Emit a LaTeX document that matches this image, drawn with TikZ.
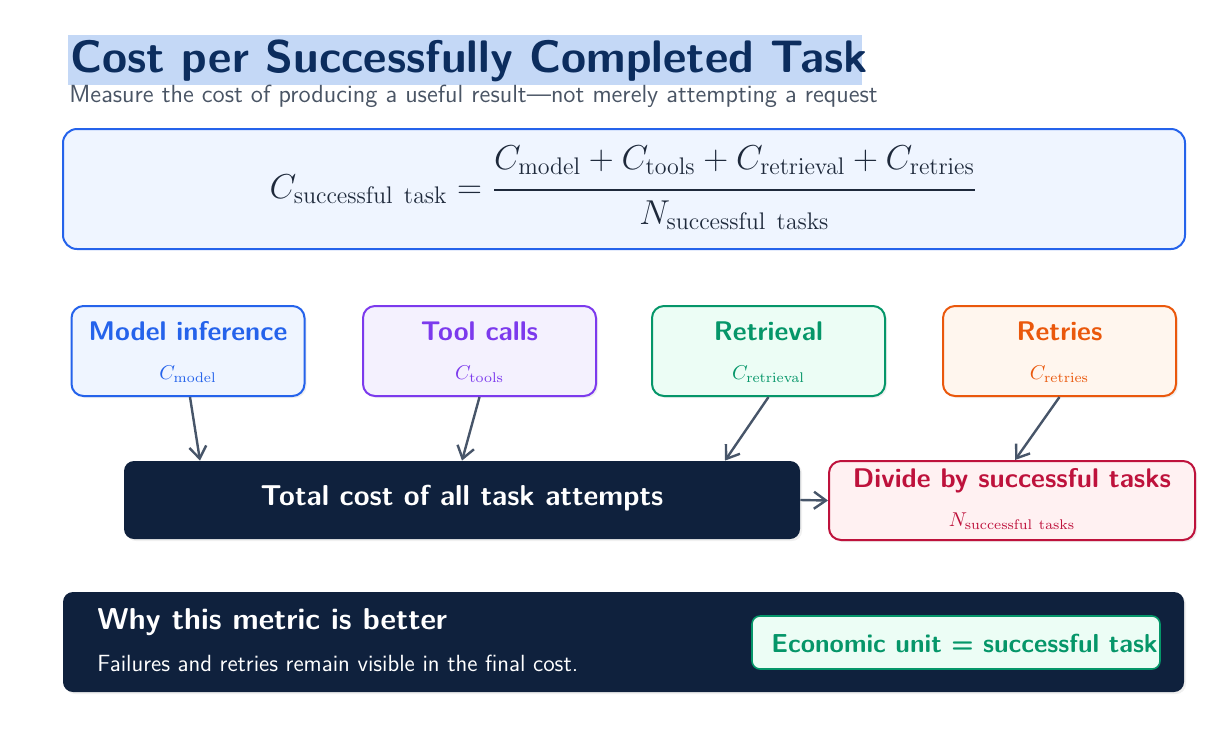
\documentclass[tikz,border=0pt]{standalone}
\usepackage{amsmath}
\usetikzlibrary{arrows.meta,shadows,calc}
\definecolor{navy}{HTML}{0F213D}
\definecolor{titlecol}{HTML}{0C2D5E}
\definecolor{hilite}{HTML}{C4D8F6}
\definecolor{subcol}{HTML}{4A5565}
\definecolor{arrowcol}{HTML}{475569}
\definecolor{cblue}{HTML}{2563EB}
\definecolor{fblue}{HTML}{EFF5FF}
\definecolor{cpurple}{HTML}{7C3AED}
\definecolor{fpurple}{HTML}{F4F1FE}
\definecolor{cgreen}{HTML}{059669}
\definecolor{fgreen}{HTML}{ECFDF5}
\definecolor{corange}{HTML}{EA580C}
\definecolor{forange}{HTML}{FFF6EE}
\definecolor{cred}{HTML}{BE123C}
\definecolor{fred}{HTML}{FFF1F2}
\definecolor{mathcol}{HTML}{1E293B}
\tikzset{
  card/.style={draw=#1, line width=1pt, rounded corners=6pt, minimum width=116.5pt, minimum height=45pt,
    inner sep=0pt, drop shadow={opacity=0.12, shadow xshift=1pt, shadow yshift=-1pt}},
  cardtitle/.style={text=#1, font=\sffamily\bfseries\fontsize{13.5}{15}\selectfont, inner sep=0pt},
  cardmath/.style={text=#1, font=\fontsize{10}{12}\selectfont, inner sep=0pt},
  link/.style={draw=arrowcol, line width=1.2pt, -{Straight Barb[length=6pt,width=8.5pt]}},
  darkbox/.style={fill=navy, rounded corners=5pt, inner sep=0pt, drop shadow={opacity=0.12, shadow xshift=1pt, shadow yshift=-1pt}},
}
\begin{document}
\begin{tikzpicture}[x=0.5pt,y=-0.5pt]
\useasboundingbox (0,0) rectangle (1220,746);
% title
\fill[hilite] (68,35) rectangle (862,85);
\node[anchor=west, inner sep=0pt, text=titlecol, font=\sffamily\bfseries\fontsize{22.8}{26}\selectfont] (title) at (70,61) {Cost per Successfully Completed Task};
\node[anchor=west, inner sep=0pt, text=subcol, font=\sffamily\fontsize{12.4}{14}\selectfont] (subtitle) at (69,96) {Measure the cost of producing a useful result---not merely attempting a request};
% formula box
\node[draw=cblue, fill=fblue, line width=1pt, rounded corners=7pt, minimum width=561pt, minimum height=60pt, inner sep=0pt] (formula) at (624,189) {};
\node[text=mathcol, inner sep=0pt, anchor=base, font=\fontsize{18.6}{20}\selectfont] (eq) at (623.5,198.5) {$\displaystyle C_{\mathrm{successful\ task}}=\frac{\rule[-8pt]{0pt}{8pt}C_{\mathrm{model}}+C_{\mathrm{tools}}+C_{\mathrm{retrieval}}+C_{\mathrm{retries}}}{\rule{0pt}{15pt}N_{\mathrm{successful\ tasks}}}$};
% cards
\node[card=cblue, fill=fblue] (model) at (188,351) {};
\node[cardtitle=cblue] at (188,331) {Model inference};
\node[cardmath=cblue] at (188,374) {$C_{\mathrm{model}}$};
\node[card=cpurple, fill=fpurple] (tools) at (479.5,351) {};
\node[cardtitle=cpurple] at (479.5,331) {Tool calls};
\node[cardmath=cpurple] at (479.5,374) {$C_{\mathrm{tools}}$};
\node[card=cgreen, fill=fgreen] (retrieval) at (768.5,351) {};
\node[cardtitle=cgreen] at (768.5,331) {Retrieval};
\node[cardmath=cgreen] at (768.5,374) {$C_{\mathrm{retrieval}}$};
\node[card=corange, fill=forange] (retries) at (1059.5,351) {};
\node[cardtitle=corange] at (1059.5,331) {Retries};
\node[cardmath=corange] at (1059.5,374) {$C_{\mathrm{retries}}$};
% total
\node[darkbox, minimum width=338pt, minimum height=39pt] (total) at (462,500) {};
\node[text=white, font=\sffamily\bfseries\fontsize{14.4}{16}\selectfont, inner sep=0pt] at (462,498) {Total cost of all task attempts};
% divide
\node[card=cred, fill=fred, minimum width=183pt, minimum height=39.5pt] (divide) at (1012,500.5) {};
\node[cardtitle=cred] at (1012,481) {Divide by successful tasks};
\node[cardmath=cred] at (1012,521) {$N_{\mathrm{successful\ tasks}}$};
% arrows
\draw[link] ([xshift=1pt]model.south) -- ([xshift=-131pt]total.north);
\draw[link] (tools.south) -- (total.north);
\draw[link] (retrieval.south) -- ([xshift=131.5pt]total.north);
\draw[link] (retries.south) -- ([xshift=1.5pt]divide.north);
\draw[link] (total.east) -- (divide.west);
% bottom
\node[darkbox, minimum width=560.5pt, minimum height=50pt] (why) at (623.5,642) {};
\node[anchor=west, text=white, font=\sffamily\bfseries\fontsize{15.1}{17}\selectfont, inner sep=0pt] (whyt) at (97,622) {Why this metric is better};
\node[anchor=west, text=white, font=\sffamily\fontsize{11.7}{13}\selectfont, inner sep=0pt] (whys) at (97,663) {Failures and retries remain visible in the final cost.};
\node[draw=cgreen, fill=fgreen, line width=0.8pt, rounded corners=4pt, minimum width=204pt, minimum height=26.5pt, inner sep=0pt] (unit) at (956,642.5) {};
\node[anchor=west, text=cgreen, font=\sffamily\bfseries\fontsize{13}{15}\selectfont, inner sep=0pt] at (771,643) {Economic unit = successful task};
\end{tikzpicture}
\end{document}
